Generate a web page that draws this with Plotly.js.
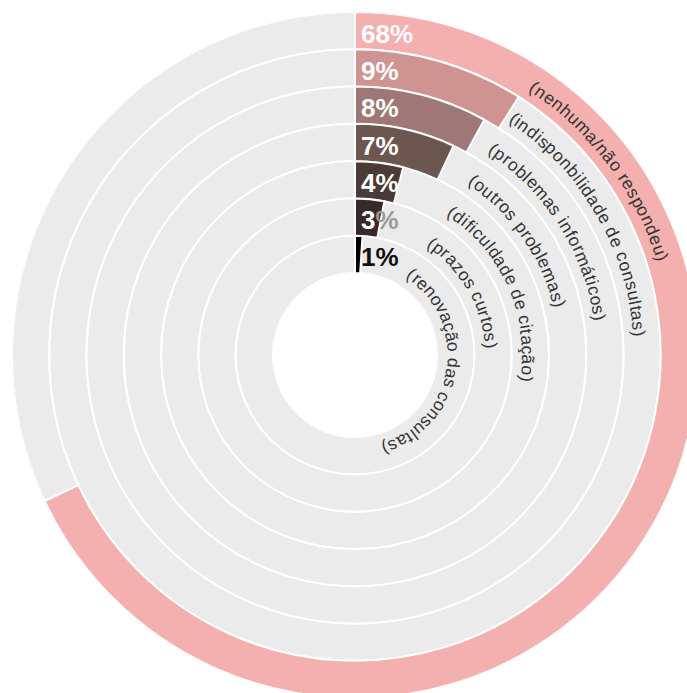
<!DOCTYPE html>
<html>
<head>
<meta charset="utf-8">
<script src="https://cdn.plot.ly/plotly-3.0.1.min.js"></script>
<style>html,body{margin:0;padding:0;overflow:hidden;background:#fff}</style>
</head>
<body>
<div id="chart" style="width:709px;height:709px"></div>
<script>
// ---- data (outer ring first) ----
const categories = ["(nenhuma/não respondeu)", "(indisponbilidade de consultas)", "(problemas informáticos)", "(outros problemas)", "(dificuldade de citação)", "(prazos curtos)", "(renovação das consultas)"];
const values = [68, 9, 8, 7, 4, 3, 1];
const percentLabels = ["68%", "9%", "8%", "7%", "4%", "3%", "1%"];

// ---- styling ----
const barColors = ["#f4b0ae", "#cf9492", "#9f7777", "#6b574e", "#4a3b36", "#372a28", "#000000"];
const trackColor = "#ebebeb";
const n = values.length;
const W = 709, H = 709, ML = 12, MT = 12, MR = 11, MB = 11;
const plotW = W - ML - MR, plotH = H - MT - MB;
const outerR = plotW / 2, holeR = 82;
const unit = (outerR - holeR) / n;
const cx = ML + plotW / 2, cy = MT + plotH / 2;

const bases = values.map((v, i) => n - 1 - i);

const tracks = {
  type: "barpolar",
  r: values.map(() => 1),
  base: bases,
  theta: values.map(() => 180),
  width: values.map(() => 360),
  marker: {color: trackColor, line: {color: "#ffffff", width: 2}},
  hoverinfo: "skip",
  showlegend: false
};

const bars = {
  type: "barpolar",
  r: values.map(() => 1),
  base: bases,
  theta: values.map(v => v * 3.6 / 2),
  width: values.map(v => v * 3.6),
  marker: {color: barColors, line: {color: "#ffffff", width: 2}},
  text: categories,
  hoverinfo: "text",
  showlegend: false
};

const annotations = [];

// percent labels: white on the bar; part falling on grey shown grey
percentLabels.forEach((t, i) => {
  let txt = t;
  if (i === n - 2) txt = t.replace("%", '<span style="color:#9a9a9a">%</span>');
  const rr = holeR + unit * (bases[i] + 0.5);
  annotations.push({
    xref: "paper", yref: "paper",
    x: (cx - ML) / plotW, y: 1 - (cy - rr - MT) / plotH,
    text: txt, showarrow: false,
    xanchor: "left", yanchor: "middle", xshift: 4, yshift: -3,
    font: {family: "Liberation Sans, Arial, sans-serif", size: 26, weight: "bold",
           color: i === n - 1 ? "#111111" : "#ffffff"}
  });
});

// ---- curved category labels ----
const cvs = document.createElement("canvas").getContext("2d");
const labelFont = 17.5, spacing = 0.8;
cvs.font = labelFont + "px 'Liberation Sans'";
const startDeg = 33.2;
categories.forEach((label, i) => {
  const rr = holeR + unit * (bases[i] + 0.5) - 2;
  let s = 0;
  for (const ch of label) {
    const w = cvs.measureText(ch).width;
    const ang = startDeg * Math.PI / 180 + (s + w / 2) / rr;
    const px = cx + rr * Math.sin(ang);
    const py = cy - rr * Math.cos(ang);
    let deg = ang * 180 / Math.PI;
    if (deg > 180) deg -= 360;
    if (ch !== " ") {
      annotations.push({
        xref: "paper", yref: "paper",
        x: (px - ML) / plotW, y: 1 - (py - MT) / plotH,
        text: ch, showarrow: false, textangle: deg,
        xanchor: "center", yanchor: "middle",
        font: {family: "Liberation Sans, Arial, sans-serif", size: labelFont, color: "#333333"}
      });
    }
    s += w + spacing;
  }
});

const layout = {
  width: W, height: H,
  margin: {l: ML, t: MT, r: MR, b: MB, pad: 0},
  paper_bgcolor: "#ffffff",
  showlegend: false,
  polar: {
    domain: {x: [0, 1], y: [0, 1]},
    hole: holeR / outerR,
    barmode: "overlay",
    bgcolor: "#ffffff",
    radialaxis: {range: [0, n], visible: false, showgrid: false},
    angularaxis: {rotation: 90, direction: "clockwise", visible: false, showgrid: false, showline: false, ticks: ""}
  },
  annotations: annotations
};

Plotly.newPlot("chart", [tracks, bars], layout, {displayModeBar: false, responsive: false});
</script>
</body>
</html>
